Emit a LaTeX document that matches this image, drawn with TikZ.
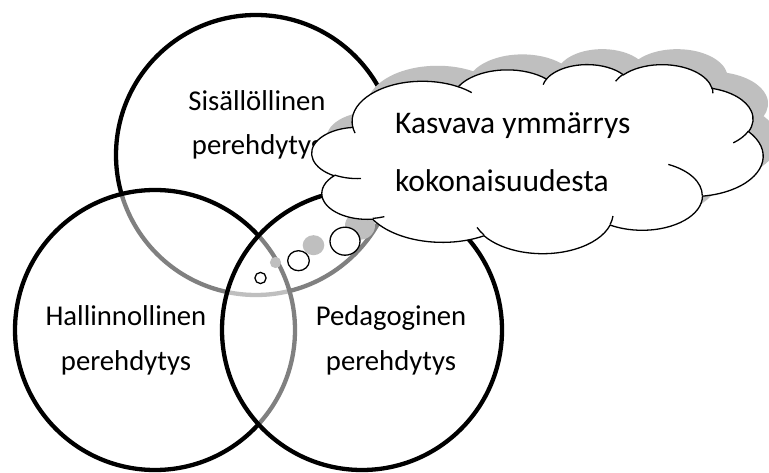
\documentclass[tikz,border=0pt]{standalone}
\usepackage{fontspec}
\setmainfont{Carlito}
\definecolor{shadowgray}{RGB}{191,191,191}
\newcommand\arcpar[6]{%
  \pgfmathsetmacro#1{atan2((#3)*sin(#5),(#4)*cos(#5))}%
  \pgfmathsetmacro\arcparB{atan2((#3)*sin((#5)+(#6)),(#4)*cos((#5)+(#6)))}%
  \pgfmathsetmacro\arcparD{(\arcparB)-(#1)}%
  \pgfmathsetmacro#2{(#1)+(\arcparD)+360*round(((#6)-(\arcparD))/360)}%
}
\arcpar{\cAs}{\cAe}{6753}{9190}{-190.48748}{123.78053}
\arcpar{\cBs}{\cBe}{5333}{7267}{-144.10238}{89.94523}
\arcpar{\cCs}{\cCe}{4365}{5945}{-145.80792}{99.72302}
\arcpar{\cDs}{\cDe}{4857}{6595}{-130.98607}{117.24173}
\arcpar{\cEs}{\cEe}{5333}{7273}{-78.70888}{109.02692}
\arcpar{\cFs}{\cFe}{6775}{9220}{-46.26725}{130.269}
\arcpar{\cGs}{\cGe}{5785}{7867}{0.62502}{114.03333}
\arcpar{\cHs}{\cHe}{6752}{9215}{22.4516}{115.17255}
\arcpar{\cIs}{\cIe}{7720}{10543}{66.24263}{75.71102}
\arcpar{\cJs}{\cJe}{4360}{5918}{-274.94208}{146.73557}
\arcpar{\cKs}{\cKe}{4345}{5945}{-246.8285}{152.51885}
\arcpar{\iAs}{\iAe}{4345}{5945}{86.742}{26.4295}
\arcpar{\iBs}{\iBe}{4360}{5918}{73.61047}{11.44747}
\arcpar{\iCs}{\iCe}{6752}{9215}{137.62415}{14.0811}
\arcpar{\iDs}{\iDe}{6752}{9215}{6.45327}{15.99835}
\arcpar{\iEs}{\iEe}{5785}{7867}{-70.29235}{70.91737}
\arcpar{\iFs}{\iFe}{5333}{7273}{30.31803}{27.7515}
\arcpar{\iGs}{\iGe}{4857}{6595}{-13.74433}{14.8589}
\arcpar{\iHs}{\iHe}{4857}{6595}{-149.18145}{18.19537}
\arcpar{\iIs}{\iIe}{4365}{5945}{-163.49427}{17.68635}
\arcpar{\iJs}{\iJe}{6753}{9190}{-66.70695}{12.31935}
\arcpar{\iKs}{\iKe}{6753}{9190}{157.65435}{11.85817}
\begin{document}
\begin{tikzpicture}[x=1pt,y=1pt,yscale=-1,
  ring/.style={circle, draw=black, line width=4.3pt, fill=white, fill opacity=0.5, minimum size=280pt, inner sep=0pt},
  lbl/.style={inner sep=0pt, anchor=base, font=\fontsize{28.7}{34}\selectfont},
  cloudlbl/.style={inner sep=0pt, anchor=base west, font=\fontsize{31.5}{38}\selectfont},
  cloudline/.style={draw=black, line width=1.3pt},
  shade/.style={fill=shadowgray, draw=none},
  cloudbox/.style={shift={(312,64)}, xscale=10.44, yscale=4.375},
  cloud path/.style={insert path={
    (3.9,14.37)
    arc[start angle=\cAs,end angle=\cAe,x radius=6.753pt,y radius=9.19pt]
    arc[start angle=\cBs,end angle=\cBe,x radius=5.333pt,y radius=7.267pt]
    arc[start angle=\cCs,end angle=\cCe,x radius=4.365pt,y radius=5.945pt]
    arc[start angle=\cDs,end angle=\cDe,x radius=4.857pt,y radius=6.595pt]
    arc[start angle=\cEs,end angle=\cEe,x radius=5.333pt,y radius=7.273pt]
    arc[start angle=\cFs,end angle=\cFe,x radius=6.775pt,y radius=9.22pt]
    arc[start angle=\cGs,end angle=\cGe,x radius=5.785pt,y radius=7.867pt]
    arc[start angle=\cHs,end angle=\cHe,x radius=6.752pt,y radius=9.215pt]
    arc[start angle=\cIs,end angle=\cIe,x radius=7.72pt,y radius=10.543pt]
    arc[start angle=\cJs,end angle=\cJe,x radius=4.36pt,y radius=5.918pt]
    arc[start angle=\cKs,end angle=\cKe,x radius=4.345pt,y radius=5.945pt]
    -- cycle}},
  bubble path/.style={insert path={
    (345,241.2) ellipse[x radius=15pt, y radius=14pt]
    (298.5,260.7) ellipse[x radius=10.8pt, y radius=10pt]
    (260.5,278) ellipse[x radius=5.6pt, y radius=5.6pt]}}
]
\useasboundingbox (0,0) rectangle (769,473);
\fill[white] (0,0) rectangle (769,473);
% circles
\node[ring] (sis) at (256,155) {};
\node[ring] (hal) at (155,330) {};
\node[ring] (ped) at (362,330) {};
% shadows of the callout
\begin{scope}[shift={(15,-15.5)}]
  \path[shade, bubble path];
  \begin{scope}[cloudbox]
    \path[shade, cloud path];
  \end{scope}
\end{scope}
% labels
\node[lbl] (s1) at (257,111) {Sisällöllinen};
\node[lbl] (s2) at (257,155) {perehdytys};
\node[lbl] (h1) at (126,325.7) {Hallinnollinen};
\node[lbl] (h2) at (126,370.5) {perehdytys};
\node[lbl] (p1) at (391,325.7) {Pedagoginen};
\node[lbl] (p2) at (391,370.5) {perehdytys};
% bubbles
\path[cloudline, fill=white, bubble path];
% cloud
\begin{scope}[cloudbox]
  \path[cloudline, fill=white, cloud path];
  \draw[cloudline] (4.693,26.177) arc[start angle=\iAs,end angle=\iAe,x radius=4.345pt,y radius=5.945pt];
  \draw[cloudline] (6.928,34.899) arc[start angle=\iBs,end angle=\iBe,x radius=4.36pt,y radius=5.918pt];
  \draw[cloudline] (16.478,39.09) arc[start angle=\iCs,end angle=\iCe,x radius=6.752pt,y radius=9.215pt];
  \draw[cloudline] (28.827,34.751) arc[start angle=\iDs,end angle=\iDe,x radius=6.752pt,y radius=9.215pt];
  \draw[cloudline] (34.129,22.954) arc[start angle=\iEs,end angle=\iEe,x radius=5.785pt,y radius=7.867pt];
  \draw[cloudline] (41.798,15.354) arc[start angle=\iFs,end angle=\iFe,x radius=5.333pt,y radius=7.273pt];
  \draw[cloudline] (38.324,5.426) arc[start angle=\iGs,end angle=\iGe,x radius=4.857pt,y radius=6.595pt];
  \draw[cloudline] (29.078,3.952) arc[start angle=\iHs,end angle=\iHe,x radius=4.857pt,y radius=6.595pt];
  \draw[cloudline] (22.141,4.72) arc[start angle=\iIs,end angle=\iIe,x radius=4.365pt,y radius=5.945pt];
  \draw[cloudline] (14.0,5.192) arc[start angle=\iJs,end angle=\iJe,x radius=6.753pt,y radius=9.19pt];
  \draw[cloudline] (4.127,15.789) arc[start angle=\iKs,end angle=\iKe,x radius=6.753pt,y radius=9.19pt];
\end{scope}
\node[cloudlbl] (k1) at (395,133.3) {Kasvava ymmärrys};
\node[cloudlbl] (k2) at (395,191.7) {kokonaisuudesta};
\end{tikzpicture}
\end{document}
